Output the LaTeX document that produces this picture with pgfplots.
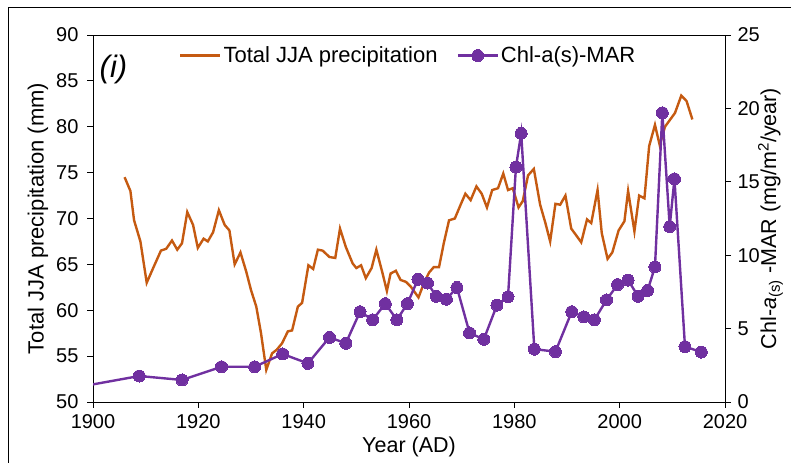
\documentclass[border=0pt]{standalone}
\usepackage{fontspec}
\setmainfont{Liberation Sans}
\usepackage{pgfplots}
\pgfplotsset{compat=1.18}
\definecolor{orng}{RGB}{197,90,17}
\definecolor{purp}{RGB}{112,48,160}
\pgfplotstableread{
year prec
1906.0 74.5
1907.1 73.0
1907.8 69.8
1909.0 67.5
1910.2 63.0
1911.5 64.7
1912.9 66.5
1913.9 66.7
1915.0 67.6
1916.0 66.6
1916.9 67.3
1917.9 70.7
1919.0 69.3
1919.9 66.8
1921.0 67.8
1921.8 67.5
1922.8 68.5
1923.9 70.9
1925.0 69.3
1925.9 68.7
1926.9 65.0
1928.0 66.3
1929.1 64.2
1930.0 62.2
1931.0 60.4
1931.9 57.5
1932.9 53.5
1934.0 55.3
1934.9 55.7
1935.9 56.4
1937.0 57.7
1937.8 57.8
1938.9 60.4
1939.7 60.8
1940.9 64.9
1941.8 64.5
1942.7 66.6
1943.6 66.5
1944.9 65.8
1946.0 65.7
1946.9 68.9
1948.0 66.9
1949.3 65.1
1950.0 64.6
1950.9 64.9
1951.8 63.5
1952.9 64.6
1953.8 66.6
1954.9 64.2
1955.8 62.1
1956.5 64.0
1957.5 64.3
1958.4 63.3
1959.4 63.1
1960.3 62.6
1961.8 61.4
1962.8 62.9
1963.8 64.1
1964.7 64.7
1965.7 64.7
1966.6 67.3
1967.6 69.8
1968.7 70.0
1969.8 71.5
1970.7 72.7
1971.7 72.0
1972.8 73.5
1973.8 72.7
1974.8 71.2
1975.8 73.1
1976.9 73.3
1977.9 74.9
1978.8 73.1
1979.7 73.3
1980.8 71.2
1981.6 71.9
1982.6 74.7
1983.7 75.4
1984.9 71.5
1985.9 69.5
1986.8 67.5
1987.8 71.6
1988.7 71.5
1989.7 72.5
1990.8 68.9
1991.7 68.2
1992.7 67.4
1993.8 69.9
1994.6 69.5
1995.8 73.1
1996.6 68.4
1997.7 65.6
1998.6 66.3
1999.8 68.7
2000.9 69.7
2001.6 73.0
2002.8 68.6
2003.7 72.5
2004.7 72.2
2005.6 77.9
2006.7 80.2
2007.6 78.0
2008.6 80.0
2010.5 81.5
2011.7 83.4
2012.7 82.8
2013.8 80.8
}\prectable
\pgfplotstableread{
year chl
1908.8 1.77
1916.9 1.50
1924.4 2.40
1930.7 2.40
1936.0 3.27
1940.8 2.63
1944.9 4.40
1948.0 4.00
1950.7 6.15
1953.1 5.60
1955.5 6.70
1957.7 5.60
1959.7 6.70
1961.7 8.36
1963.5 8.10
1965.2 7.20
1967.1 7.00
1969.1 7.80
1971.5 4.70
1974.2 4.27
1976.7 6.60
1978.8 7.17
1980.3 16.00
1981.3 18.30
1983.8 3.60
1987.8 3.43
1990.9 6.15
1993.2 5.80
1995.2 5.60
1997.5 6.95
1999.6 8.00
2001.6 8.30
2003.5 7.20
2005.3 7.60
2006.7 9.20
2008.1 19.70
2009.5 11.95
2010.4 15.20
2012.4 3.77
2015.5 3.40
}\chltable
\begin{document}
\begin{tikzpicture}[x=1bp,y=1bp]
\useasboundingbox (0,0) rectangle (791,463);
\draw[line width=1.5bp] (8.5,0) -- (8.5,455.5) -- (791,455.5);
\pgfplotsset{
  base/.style={
    scale only axis, width=632bp, height=367bp,
    at={(93bp,61bp)}, anchor=south west,
    xmin=1900, xmax=2020,
    tick align=outside, major tick length=6bp,
    every tick/.style={black, line width=0.9bp},
    axis line style={line width=0.9bp},
    tick label style={font=\fontsize{20bp}{24bp}\selectfont},
    /pgf/number format/assume math mode=true,
    /pgf/number format/1000 sep={},
  }
}
\begin{axis}[base,
  ymin=50, ymax=90, ytick={50,55,...,90},
  xtick={1900,1920,...,2020}, xtick pos=bottom, ytick pos=left,
  xticklabel style={yshift=-3bp}, yticklabel style={xshift=-5bp},
  every axis x label/.style={at={(axis description cs:0.5,-0.1226)}, anchor=center, font=\fontsize{21.5bp}{25bp}\selectfont},
  every axis y label/.style={at={(axis description cs:-0.087,0.5)}, rotate=90, anchor=center, font=\fontsize{22bp}{26bp}\selectfont},
  xlabel={Year (AD)}, ylabel={Total JJA precipitation (mm)},
]
\addplot[orng, line width=2.4bp] table[x=year,y=prec]{\prectable};
\node[anchor=west, font=\itshape\fontsize{31bp}{35bp}\selectfont] at (axis description cs:0.005,0.905) {(i)};
\end{axis}
\begin{axis}[base,
  ymin=0, ymax=25, ytick={0,5,...,25},
  axis x line=none, axis y line*=right,
  yticklabel style={xshift=3bp},
  every axis y label/.style={at={(axis description cs:1.072,0.5)}, rotate=90, anchor=center, font=\fontsize{21.5bp}{25bp}\selectfont},
  ylabel={Chl-\textit{a}\textsubscript{(s)} -MAR (mg/m\textsuperscript{2}/year)},
  legend style={draw=none, fill=none, at={(axis description cs:0.136,0.944)}, anchor=west,
    font=\fontsize{22bp}{26bp}\selectfont, inner sep=0pt,
    nodes={inner sep=2bp},
    /tikz/every even column/.append style={column sep=17bp}},
  legend columns=2,
  legend image code/.code={\draw[mark repeat=2,mark phase=2,#1] plot coordinates {(0bp,0bp)(20bp,0bp)(40bp,0bp)};},
]
\addlegendimage{orng, line width=2.4bp}
\addlegendentry{Total JJA precipitation}
\addplot[purp, line width=2.4bp, forget plot] coordinates {(1900,1.2) (1908.8,1.77)};
\addplot[purp, line width=2.4bp, mark=*, mark size=6bp, mark options={fill=purp, draw=purp, line width=0bp}] table[x=year,y=chl]{\chltable};
\addlegendentry{Chl-a(s)-MAR}
\end{axis}
\end{tikzpicture}
\end{document}
